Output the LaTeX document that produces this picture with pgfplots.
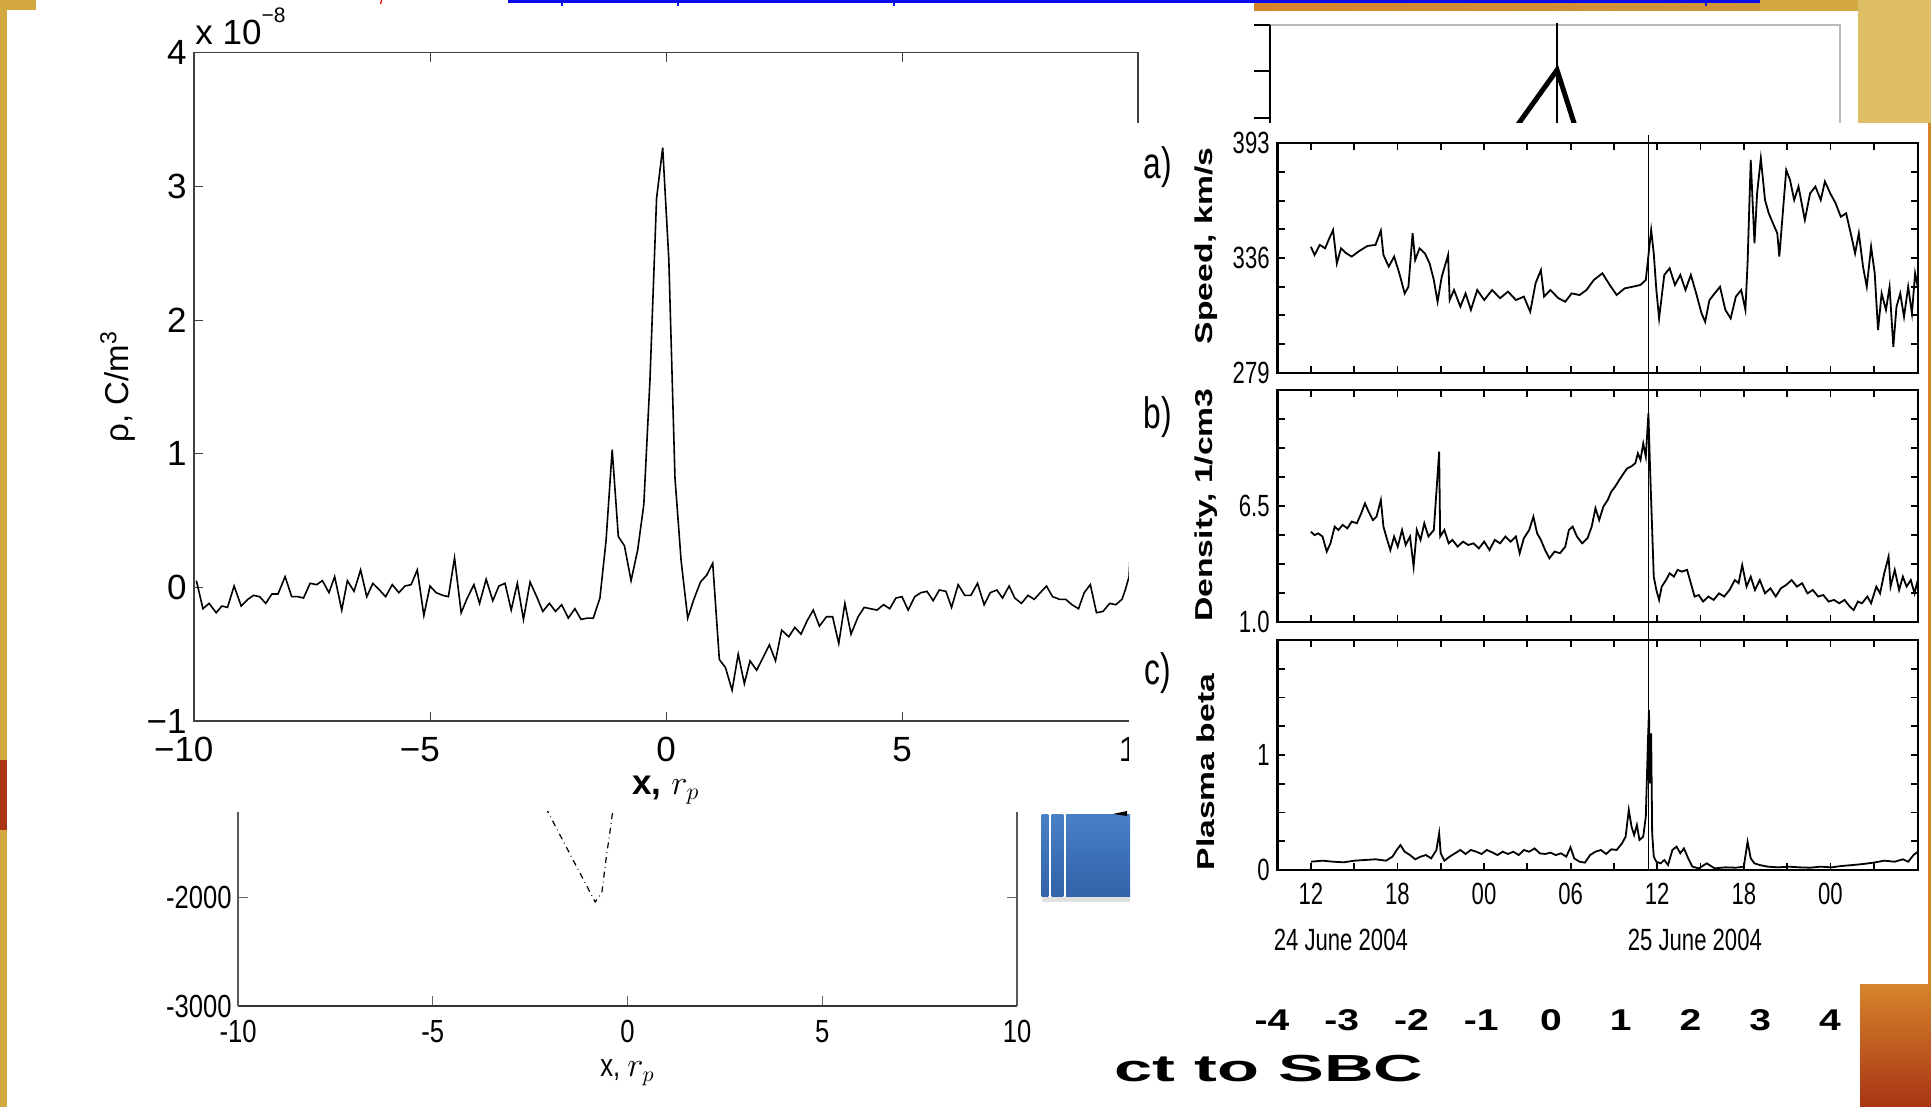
\documentclass[border=0pt]{standalone}
\usepackage{fontspec}
\setmainfont{Liberation Sans}
\newfontfamily\nfont[FakeStretch=0.72]{Liberation Sans}
\newfontfamily\wfont[FakeStretch=1.38]{Liberation Sans}
\newfontfamily\blfont[FakeStretch=0.8]{Liberation Sans}
\newfontfamily\sfontA[FakeStretch=1.82]{Liberation Sans}
\newfontfamily\sfontB[FakeStretch=1.3]{Liberation Sans}
\usepackage{pgfplots}
\pgfplotsset{compat=1.18}
\definecolor{bggold}{RGB}{212,168,64}
\definecolor{bglight}{RGB}{222,190,100}
\definecolor{bgred}{RGB}{168,52,20}
\definecolor{bgorange}{RGB}{214,132,44}
\definecolor{bgorange2}{RGB}{205,150,60}
\definecolor{linkblue}{RGB}{10,10,235}
\definecolor{pblueT}{RGB}{72,128,198}
\definecolor{pblueB}{RGB}{50,98,168}
\pgfplotsset{
  rpanel/.style={scale only axis, anchor=south west, width=320.1pt,
    xmin=9.69, xmax=54.05, xtick={12,15,...,51}, xticklabels={},
    tick align=inside, major tick length=3.5pt,
    axis line style={black, line width=1.1pt},
    tick style={black, line width=0.9pt},
    tick label style={font=\nfont\fontsize{15.35}{17}\selectfont, inner sep=0pt},
    yticklabel style={xshift=-3.75pt},
    xticklabel style={yshift=-6.5pt},
    clip=false},
}
\begin{document}
\begin{tikzpicture}
\useasboundingbox (0,0) rectangle (965.5pt,553.5pt);
% ---------- background collage ----------
\fill[bggold] (0,0) rectangle (965.5pt,553.5pt);
\fill[bgred] (0,138.5pt) rectangle (3.5pt,173.5pt);
\fill[white] (3.5pt,0) rectangle (627pt,553.5pt);
\fill[bggold] (0,548.5pt) rectangle (18pt,553.5pt);
\shade[left color=bgorange, middle color=bgred, right color=bgorange2] (627pt,548pt) rectangle (880pt,553.5pt);
\fill[white] (627pt,492pt) rectangle (929pt,548pt);
\fill[bglight] (929pt,492pt) rectangle (965.5pt,553.5pt);
\draw[linkblue, line width=1.5pt] (254pt,552.75pt) -- (880pt,552.75pt);
\draw[linkblue, line width=1pt] (281pt,553.5pt) -- (281pt,550.5pt);
\draw[linkblue, line width=1pt] (339pt,553.5pt) -- (339pt,550.5pt);
\draw[linkblue, line width=1pt] (447pt,553.5pt) -- (447pt,550.5pt);
\draw[linkblue, line width=1pt] (853pt,553.5pt) -- (853pt,550.5pt);
\draw[red, line width=0.6pt] (190.8pt,553.5pt) -- (190.3pt,551.5pt);

% ---------- bottom-left partial plot ----------
\begin{axis}[at={(119pt,50.5pt)}, anchor=south west, scale only axis,
  width=389.5pt, height=97pt,
  xmin=-10, xmax=10, ymin=-3000, ymax=-1220,
  axis x line=bottom, axis y line=box,
  axis line style={-, black!65, line width=0.6pt},
  x axis line style={line width=1.2pt, black!80},
  xtick={-10,-5,0,5,10}, xticklabels={-10,-5,0,5,10},
  ytick={-3000,-2000}, yticklabels={-3000,-2000},
  tick align=inside, major tick length=5pt,
  tick style={black!60, line width=0.5pt},
  tick label style={font=\blfont\fontsize{16}{18}\selectfont, inner sep=0pt},
  yticklabel style={xshift=-3pt},
  xticklabel style={yshift=-7pt},
  clip mode=individual]
\addplot[black, dashdotted, line width=0.6pt] coordinates {
(-2.1,-1180)(-1.5,-1590)(-1.0,-1930)(-0.83,-2046)(-0.66,-1963)(-0.55,-1650)(-0.45,-1400)(-0.36,-1160)};
\node[font=\blfont\fontsize{16}{18}\selectfont] at ([yshift=-33.5pt]rel axis cs:0.5,0) {x, $r_p$};
\end{axis}

% ---------- main plot ----------
\begin{axis}[at={(97pt,193pt)}, anchor=south west, scale only axis,
  width=472pt, height=334.15pt,
  xmin=-10, xmax=10, ymin=-1, ymax=4,
  xtick={-10,-5,0,5,10}, xticklabels={\llap{−}10,\llap{−}5,0,5,10},
  ytick={-1,0,1,2,3,4}, yticklabels={−1,0,1,2,3,4},
  tick align=inside, major tick length=4.5pt,
  tick style={black!75, line width=0.5pt},
  axis line style={black!75, line width=0.6pt},
  tick label style={font=\fontsize{17.5}{20}\selectfont, inner sep=0pt},
  xticklabel style={yshift=-8pt},
  yticklabel style={xshift=-3.5pt},
  clip=false]
\addplot[black, line width=0.8pt] coordinates {
(-9.95,0.05)(-9.81,-0.16)(-9.68,-0.12)(-9.53,-0.19)(-9.41,-0.14)(-9.29,-0.15)(-9.15,0.01)(-9.00,-0.14)
(-8.86,-0.09)(-8.74,-0.06)(-8.61,-0.07)(-8.48,-0.12)(-8.35,-0.05)(-8.22,-0.05)(-8.07,0.08)(-7.93,-0.07)
(-7.80,-0.07)(-7.68,-0.08)(-7.54,0.03)(-7.40,0.02)(-7.28,0.05)(-7.14,-0.04)(-7.02,0.08)(-6.87,-0.17)
(-6.75,0.05)(-6.61,-0.03)(-6.47,0.13)(-6.34,-0.07)(-6.21,0.03)(-6.07,-0.02)(-5.94,-0.07)(-5.80,0.02)
(-5.66,-0.04)(-5.53,0.01)(-5.40,0.02)(-5.27,0.13)(-5.13,-0.21)(-5.00,0.01)(-4.87,-0.04)(-4.73,-0.06)
(-4.61,-0.07)(-4.48,0.22)(-4.34,-0.19)(-4.21,-0.08)(-4.07,0.02)(-3.95,-0.12)(-3.81,0.06)(-3.67,-0.10)
(-3.54,0.01)(-3.41,0.03)(-3.28,-0.17)(-3.15,0.03)(-3.02,-0.24)(-2.88,0.04)(-2.74,-0.07)(-2.61,-0.18)
(-2.47,-0.12)(-2.34,-0.18)(-2.21,-0.13)(-2.07,-0.23)(-1.93,-0.16)(-1.80,-0.24)(-1.66,-0.23)(-1.54,-0.23)
(-1.40,-0.08)(-1.27,0.35)(-1.14,1.03)(-1.01,0.38)(-0.88,0.31)(-0.74,0.05)(-0.60,0.28)(-0.47,0.62)
(-0.34,1.55)(-0.20,2.91)(-0.07,3.29)(0.06,2.45)(0.19,0.82)(0.32,0.20)(0.46,-0.23)(0.59,-0.09)
(0.73,0.04)(0.86,0.09)(0.99,0.18)(1.13,-0.54)(1.26,-0.60)(1.40,-0.77)(1.53,-0.50)(1.66,-0.72)
(1.78,-0.55)(1.92,-0.62)(2.05,-0.53)(2.19,-0.43)(2.32,-0.55)(2.45,-0.32)(2.60,-0.37)(2.73,-0.30)
(2.86,-0.35)(2.99,-0.25)(3.12,-0.17)(3.25,-0.29)(3.40,-0.22)(3.53,-0.22)(3.66,-0.42)(3.79,-0.12)
(3.92,-0.35)(4.07,-0.22)(4.20,-0.15)(4.33,-0.16)(4.47,-0.17)(4.61,-0.13)(4.74,-0.16)(4.87,-0.08)
(5.00,-0.07)(5.13,-0.17)(5.27,-0.07)(5.40,-0.04)(5.53,-0.03)(5.66,-0.10)(5.79,-0.02)(5.93,-0.03)
(6.05,-0.15)(6.19,0.02)(6.33,-0.06)(6.46,-0.06)(6.60,0.03)(6.74,-0.13)(6.87,-0.04)(7.01,-0.02)
(7.13,-0.08)(7.27,0.01)(7.39,-0.08)(7.53,-0.12)(7.67,-0.06)(7.80,-0.09)(7.93,-0.04)(8.06,0.01)
(8.19,-0.07)(8.34,-0.09)(8.47,-0.09)(8.60,-0.13)(8.74,-0.16)(8.86,-0.04)(8.99,0.02)(9.12,-0.19)
(9.26,-0.18)(9.40,-0.12)(9.53,-0.13)(9.66,-0.09)(9.73,-0.02)(9.81,0.08)(9.87,0.5)};
\node[font=\fontsize{17.5}{20}\selectfont, inner sep=0pt] at ([yshift=-34.5pt]rel axis cs:0.5,0) {\textbf{x,} $r_p$};
\node[font=\fontsize{16.5}{19}\selectfont, rotate=90] at ([xshift=-38pt]rel axis cs:0,0.5) {ρ, C/m\textsuperscript{3}};
\node[font=\fontsize{17.5}{20}\selectfont, anchor=base west, inner sep=0pt] at ([xshift=0.5pt,yshift=3.9pt]rel axis cs:0,1) {x 10\raisebox{11pt}{\fontsize{10.5}{12}\selectfont −8}};
\end{axis}

% ---------- top-right partial plot (Lambda) ----------
\begin{axis}[at={(635pt,453.5pt)}, anchor=south west, scale only axis,
  width=285pt, height=87.5pt, xmin=0, xmax=570, ymin=-175, ymax=0,
  axis line style={gray!55, line width=1pt}, xtick=\empty, ytick=\empty, clip=false]
\addplot[black, line width=0.8pt] coordinates {(287,2)(287,-175)};
\addplot[black, line width=2.5pt, line join=miter] coordinates {(230,-125)(249,-98)(287,-45)(304,-98)(312,-125)};
\end{axis}
\begin{axis}[at={(635pt,453.5pt)}, anchor=south west, scale only axis,
  width=285pt, height=87.5pt, xmin=0, xmax=570, ymin=-175, ymax=0,
  axis x line=none, axis y line=left, axis line style={-, black, line width=1.3pt},
  xtick=\empty, ytick={0,-46,-93}, yticklabels={}, tick align=outside,
  major tick length=8pt, tick style={black, line width=1.3pt}]
\end{axis}

% ---------- white overlay of the right figure ----------
\fill[white] (564.5pt,61pt) rectangle (964pt,492pt);
\fill[white] (564.5pt,0pt) rectangle (930pt,61pt);
\fill[bgorange] (964pt,61pt) rectangle (965.5pt,492pt);
\shade[top color=bgorange, bottom color=bgred] (930pt,0pt) rectangle (965.5pt,61pt);

% ---------- panel a ----------
\begin{axis}[rpanel, at={(638.75pt,367.15pt)}, height=114.7pt, ymin=279, ymax=393,
  ytick={279,293.25,307.5,321.75,336,350.25,364.5,378.75,393}, yticklabels={279,,,,336,,,,393}]
\addplot[black, line width=0.5pt] coordinates {(35.43,397.1)(35.43,279)};
\addplot[black, line width=0.9pt] coordinates {
(12.00,341.6)(12.26,337.5)(12.62,342.5)(12.99,340.8)(13.25,345.3)(13.54,349.9)(13.80,333.3)(14.09,340.8)
(14.46,338.3)(14.83,336.7)(15.38,339.6)(15.93,342.0)(16.48,342.5)(16.85,349.6)(17.03,337.5)(17.40,331.7)
(17.77,336.7)(18.13,328.4)(18.50,318.4)(18.76,321.7)(19.05,348.3)(19.23,335.0)(19.53,340.8)(19.90,338.3)
(20.23,333.3)(20.52,325.1)(20.78,314.3)(21.07,326.7)(21.51,337.5)(21.62,315.1)(21.92,320.1)(22.36,311.8)
(22.72,318.4)(23.09,310.2)(23.53,320.1)(24.01,315.1)(24.56,320.1)(25.11,316.0)(25.66,319.3)(26.21,315.1)
(26.76,316.8)(27.20,309.3)(27.57,323.4)(27.94,330.0)(28.16,316.8)(28.60,320.1)(29.15,316.0)(29.63,314.3)
(30.07,318.4)(30.62,317.6)(31.10,320.1)(31.61,325.1)(32.20,328.4)(32.71,322.6)(33.19,317.6)(33.74,320.9)
(34.29,321.7)(34.84,322.6)(35.21,325.1)(35.58,349.9)(35.76,338.3)(35.94,320.1)(36.13,306.0)(36.49,327.6)
(36.86,330.9)(37.23,322.6)(37.60,327.6)(37.96,320.1)(38.33,327.6)(38.70,318.4)(39.07,308.5)(39.32,304.3)
(39.62,315.1)(39.98,318.4)(40.35,321.7)(40.72,310.2)(41.09,306.0)(41.45,316.8)(41.82,320.1)(42.11,310.2)
(42.26,333.3)(42.48,384.7)(42.74,343.3)(42.92,368.1)(43.18,385.5)(43.47,364.8)(43.73,358.2)(44.02,353.2)
(44.32,348.3)(44.46,336.7)(44.68,356.5)(44.94,379.7)(45.20,374.8)(45.49,364.8)(45.79,371.5)(46.23,354.9)
(46.59,368.1)(46.96,371.5)(47.33,364.8)(47.62,374.0)(47.99,368.1)(48.36,363.2)(48.72,356.5)(49.09,358.2)
(49.46,346.6)(49.71,338.3)(49.97,348.3)(50.26,331.7)(50.52,321.7)(50.82,341.6)(51.07,328.4)(51.30,300.2)
(51.55,318.4)(51.85,310.2)(52.10,321.7)(52.36,291.9)(52.58,311.8)(52.84,318.4)(53.10,306.8)(53.39,321.7)
(53.65,308.5)(53.87,328.4)(54.05,321.7)};
\node[font=\wfont\bfseries\fontsize{12.2}{14}\selectfont, rotate=90] at (rel axis cs:-0.1117,0.553) {Speed, km/s};
\node[font=\nfont\fontsize{22}{24}\selectfont] at (rel axis cs:-0.1867,0.897) {a)};
\end{axis}

% ---------- panel b ----------
\begin{axis}[rpanel, at={(638.75pt,242.35pt)}, height=116.15pt, ymin=1, ymax=12,
  ytick={1,2.375,3.75,5.125,6.5,7.875,9.25,10.625,12}, yticklabels={1.0,,,,6.5,,,,}]
\addplot[black, line width=0.5pt] coordinates {(35.43,12.82)(35.43,1)};
\addplot[black, line width=0.9pt] coordinates {
(12.00,5.29)(12.26,5.13)(12.51,5.21)(12.81,5.06)(13.10,4.35)(13.36,4.74)(13.65,5.53)(13.91,5.37)
(14.20,5.61)(14.53,5.45)(14.83,5.77)(15.19,5.69)(15.49,6.16)(15.75,6.63)(16.00,6.24)(16.30,5.84)
(16.55,6.00)(16.85,6.79)(17.03,5.53)(17.29,4.90)(17.51,4.42)(17.77,5.06)(18.02,4.58)(18.32,5.37)
(18.57,4.66)(18.87,5.06)(19.12,3.64)(19.34,5.37)(19.60,4.90)(19.86,5.69)(20.15,5.06)(20.52,5.37)
(20.89,9.08)(20.96,5.06)(21.25,5.37)(21.55,4.74)(21.81,4.90)(22.17,4.58)(22.54,4.82)(22.91,4.66)
(23.27,4.74)(23.64,4.50)(24.01,4.82)(24.38,4.42)(24.74,4.90)(25.11,4.74)(25.48,5.06)(25.84,4.82)
(26.21,5.06)(26.47,4.27)(26.76,4.98)(27.13,5.37)(27.42,6.00)(27.68,5.21)(27.94,4.90)(28.23,4.42)
(28.53,4.03)(28.89,4.35)(29.26,4.27)(29.63,4.58)(29.88,5.37)(30.14,5.53)(30.44,5.06)(30.80,4.74)
(31.17,4.98)(31.46,5.53)(31.72,6.40)(31.98,5.84)(32.27,6.48)(32.57,6.79)(32.82,7.19)(33.08,7.42)
(33.37,7.74)(33.67,8.05)(33.92,8.29)(34.18,8.37)(34.48,8.53)(34.66,9.00)(34.84,8.69)(35.03,9.47)
(35.21,8.84)(35.39,10.89)(35.50,8.37)(35.65,5.37)(35.76,3.16)(35.94,2.53)(36.13,2.06)(36.31,2.69)
(36.61,3.00)(36.86,3.32)(37.16,3.16)(37.41,3.48)(37.71,3.40)(38.07,3.48)(38.33,2.85)(38.59,2.22)
(38.88,2.29)(39.18,1.98)(39.54,2.22)(39.91,2.06)(40.28,2.37)(40.64,2.22)(41.01,2.53)(41.38,3.00)
(41.64,2.85)(41.89,3.71)(42.19,2.69)(42.48,3.16)(42.77,2.53)(43.11,3.00)(43.47,2.37)(43.84,2.61)
(44.21,2.22)(44.57,2.61)(44.94,2.77)(45.31,3.00)(45.68,2.69)(46.04,2.85)(46.41,2.37)(46.78,2.53)
(47.15,2.22)(47.51,2.29)(47.88,1.98)(48.25,2.06)(48.61,1.90)(48.98,2.06)(49.35,1.74)(49.61,1.58)
(49.90,1.98)(50.19,1.90)(50.56,2.22)(50.82,1.90)(51.18,2.69)(51.44,2.37)(51.73,3.32)(52.03,4.11)
(52.17,2.69)(52.46,3.48)(52.76,2.53)(53.02,3.16)(53.28,2.69)(53.57,3.00)(53.83,2.37)(54.05,3.00)};
\node[font=\wfont\bfseries\fontsize{12.2}{14}\selectfont, rotate=90] at (rel axis cs:-0.1117,0.505) {Density, 1/cm3};
\node[font=\nfont\fontsize{22}{24}\selectfont] at (rel axis cs:-0.1867,0.884) {b)};
\end{axis}

% ---------- panel c ----------
\begin{axis}[rpanel, at={(638.75pt,118.5pt)}, height=115pt, ymin=0, ymax=2,
  ytick={0,0.25,0.5,0.75,1,1.25,1.5,1.75,2}, yticklabels={0,,,,1,,,,},
  xticklabels={12,,18,,00,,06,,12,,18,,00,}]
\addplot[black, line width=0.5pt] coordinates {(35.43,2.154)(35.43,0)};
\addplot[black, line width=0.9pt] coordinates {
(12.00,0.072)(12.81,0.081)(13.54,0.072)(14.28,0.067)(15.01,0.081)(15.75,0.087)(16.48,0.093)(17.21,0.081)
(17.66,0.116)(17.95,0.174)(18.21,0.217)(18.50,0.159)(18.87,0.130)(19.23,0.093)(19.60,0.116)(19.97,0.130)
(20.34,0.101)(20.70,0.174)(20.89,0.319)(21.00,0.145)(21.25,0.081)(21.62,0.116)(21.99,0.145)(22.36,0.174)
(22.72,0.139)(23.09,0.174)(23.46,0.159)(23.83,0.139)(24.19,0.174)(24.56,0.154)(24.93,0.130)(25.29,0.159)
(25.66,0.139)(26.03,0.159)(26.40,0.130)(26.76,0.174)(27.13,0.159)(27.50,0.188)(27.86,0.145)(28.23,0.139)
(28.60,0.151)(28.97,0.130)(29.33,0.145)(29.70,0.116)(29.99,0.197)(30.25,0.101)(30.62,0.072)(30.99,0.064)
(31.35,0.130)(31.72,0.159)(32.09,0.174)(32.46,0.139)(32.82,0.180)(33.19,0.174)(33.56,0.232)(33.81,0.290)
(34.03,0.522)(34.22,0.377)(34.40,0.304)(34.59,0.391)(34.77,0.261)(35.03,0.290)(35.21,0.464)(35.36,1.130)
(35.43,1.391)(35.50,0.754)(35.58,1.188)(35.65,0.319)(35.76,0.116)(35.94,0.072)(36.24,0.058)(36.49,0.087)
(36.75,0.043)(37.05,0.174)(37.34,0.203)(37.60,0.145)(37.85,0.188)(38.15,0.101)(38.44,0.029)(38.88,0.014)
(39.43,0.058)(39.98,0.014)(40.72,0.023)(41.45,0.020)(42.00,0.029)(42.26,0.246)(42.48,0.101)(42.74,0.058)
(43.11,0.043)(43.66,0.029)(44.39,0.023)(45.13,0.029)(45.86,0.023)(46.59,0.020)(47.33,0.029)(48.06,0.023)
(48.79,0.035)(49.53,0.043)(50.26,0.052)(50.99,0.064)(51.73,0.081)(52.46,0.072)(53.02,0.093)(53.39,0.072)
(53.76,0.130)(54.05,0.159)};
\node[font=\wfont\bfseries\fontsize{12.2}{14}\selectfont, rotate=90] at (rel axis cs:-0.1117,0.426) {Plasma beta};
\node[font=\nfont\fontsize{22}{24}\selectfont] at (rel axis cs:-0.1867,0.857) {c)};
\node[font=\nfont\fontsize{15.35}{17}\selectfont] at (rel axis cs:0.099,-0.304) {24 June 2004};
\node[font=\nfont\fontsize{15.35}{17}\selectfont] at (rel axis cs:0.652,-0.304) {25 June 2004};
\end{axis}

% ---------- blue shape ----------
\shade[top color=pblueT, bottom color=pblueB] (520.85pt,105pt) rectangle (524.15pt,146pt);
\shade[top color=pblueT, bottom color=pblueB] (525.85pt,105pt) rectangle (531.65pt,146pt);
\shade[top color=pblueT, bottom color=pblueB] (533pt,105pt) rectangle (565pt,146pt);
\fill[black!12] (521pt,102.5pt) rectangle (565pt,105pt);
\fill[black] (556.5pt,146.5pt) -- (563.5pt,148pt) -- (563.5pt,145.5pt) -- cycle;

% ---------- bottom numbers ----------
\begin{axis}[at={(636pt,49pt)}, anchor=south west, scale only axis,
  width=279pt, height=2pt, xmin=-4, xmax=4, ymin=0, ymax=1,
  axis line style={draw=none}, tick style={draw=none},
  xtick={-4,-3,-2,-1,0,1,2,3,4}, xticklabels={-4,-3,-2,-1,0,1,2,3,4}, ytick=\empty,
  xticklabel style={font=\sfontB\bfseries\fontsize{15}{17}\selectfont, inner sep=0pt}]
\addplot[draw=none] coordinates {(0,0.5)};
\end{axis}
\node[anchor=base west, inner sep=0pt, font=\sfontA\bfseries\fontsize{18.85}{21}\selectfont] at (557pt,12.5pt) {ct to SBC};
\end{tikzpicture}
\end{document}
